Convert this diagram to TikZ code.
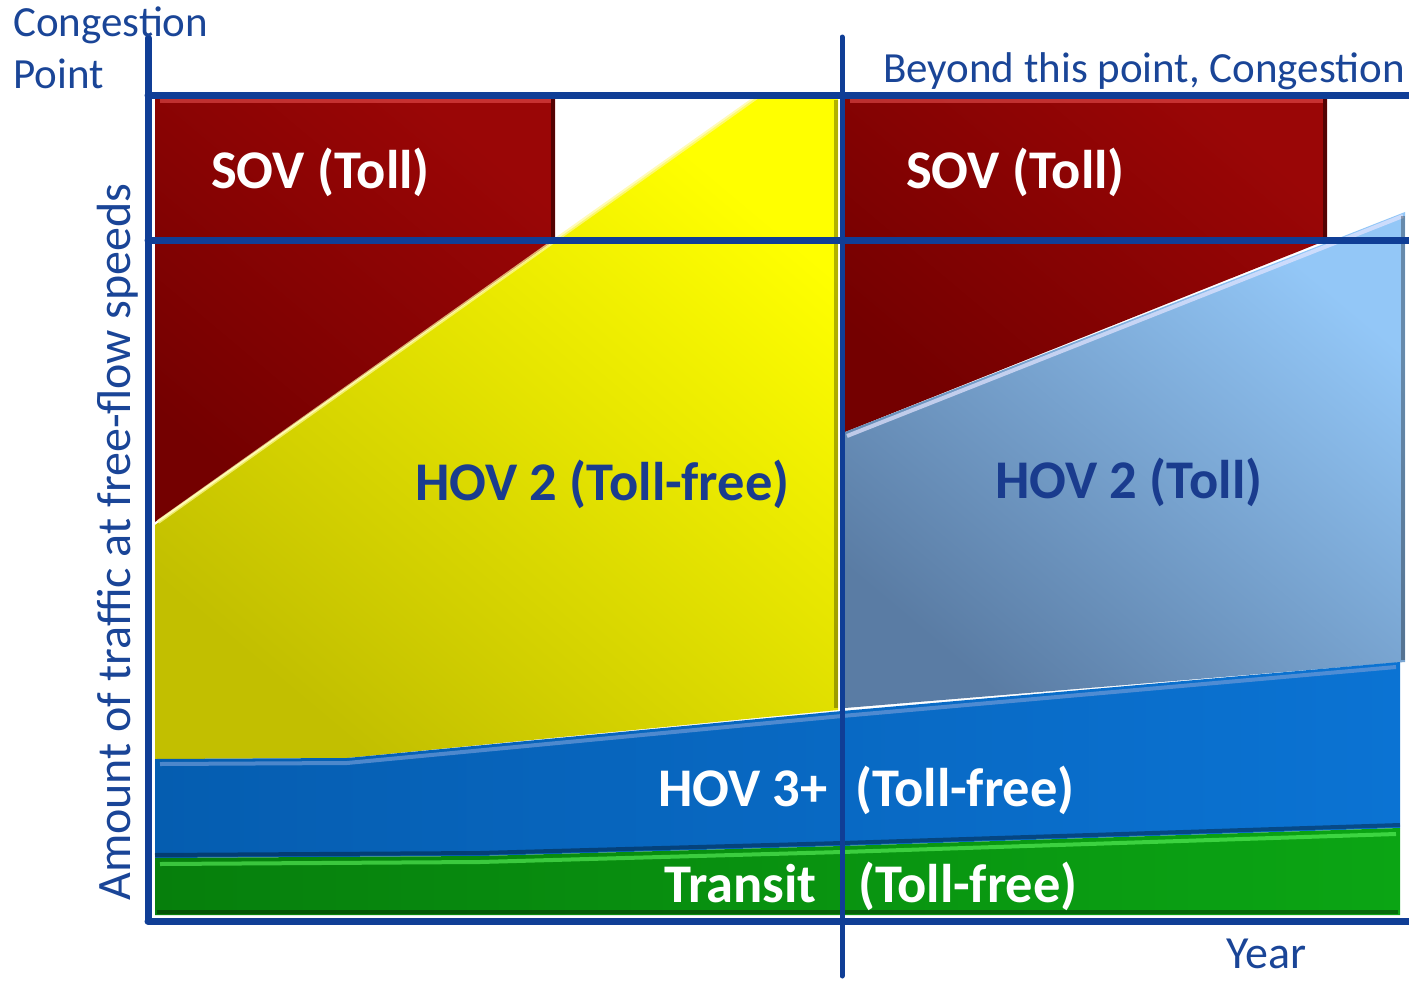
\documentclass[tikz,border=0pt]{standalone}
\usepackage{fontspec}
\setmainfont{Carlito}
\definecolor{axisblue}{HTML}{103E96}
\definecolor{labelblue}{HTML}{1A4597}
\definecolor{hovblue}{HTML}{1A3C8E}
\definecolor{redA}{HTML}{740000}
\definecolor{redB}{HTML}{9A0606}
\definecolor{yelA}{HTML}{C2BF00}
\definecolor{yelB}{HTML}{FFFF00}
\definecolor{blueA}{HTML}{055DB0}
\definecolor{blueB}{HTML}{0B73D3}
\definecolor{greenA}{HTML}{067F0C}
\definecolor{greenB}{HTML}{0BA514}
\definecolor{lbA}{HTML}{5A7CA4}
\definecolor{lbB}{HTML}{93C7F7}
\tikzset{
  axisline/.style={axisblue, line width=7pt, line cap=round},
  midline/.style={axisblue, line width=5pt, line cap=round},
  biglabel/.style={font=\fontsize{54.5}{54.5}\selectfont\bfseries, inner sep=0pt, anchor=base west},
  whitelabel/.style={biglabel, text=white},
  bluelabel/.style={biglabel, text=hovblue},
  axislabel/.style={font=\fontsize{43}{43}\selectfont, text=labelblue, inner sep=0pt},
  hilite/.style={line width=4pt, opacity=0.7},
  shadow/.style={line width=4pt, opacity=0.45, black}
}
\begin{document}
\begin{tikzpicture}[x=1pt,y=-1pt]
\useasboundingbox (0,0) rectangle (1409,983);

% --- left half ---
\shade[bottom color=redA, top color=redB, shading angle=-40]
  (155,97) -- (555,97) -- (555,240) -- (155,522) -- cycle;
\draw[hilite, red!60!white, opacity=0.45] (160,101) -- (551,101);
\draw[shadow] (553,99) -- (553,238);

\shade[bottom color=yelA, top color=yelB, shading angle=-40]
  (155,525) -- (757,97) -- (838,97) -- (838,710) -- (347,758) -- (155,759) -- cycle;
\draw[hilite, yellow!40!white] (158,522) -- (757,97);
\draw[shadow, opacity=0.3] (836,100) -- (836,708);

% --- right half ---
\shade[bottom color=redA, top color=redB, shading angle=-40]
  (845,97) -- (1327,97) -- (1327,240) -- (845,432) -- cycle;
\draw[hilite, red!60!white, opacity=0.45] (850,101) -- (1323,101);
\draw[shadow] (1325,99) -- (1325,238);

\shade[bottom color=lbA, top color=lbB, shading angle=-40]
  (845,432) -- (1405,212) -- (1405,662) -- (845,708) -- cycle;
\draw[hilite, blue!10!white] (847,436) -- (1403,216);
\draw[shadow, opacity=0.3] (1403,216) -- (1403,660);

% --- HOV 3+ band ---
\shade[left color=blueA, right color=blueB]
  (155,759) -- (347,758) -- (842,711) -- (1400,662) -- (1400,828) -- (842,846) -- (480,856) -- (155,858) -- cycle;
\draw[hilite, cyan!50!blue!60!white] (160,764) -- (347,763) -- (842,716) -- (1396,667);
\draw[shadow, opacity=0.35] (155,855) -- (480,853) -- (842,843) -- (1400,825);

% --- Transit band ---
\shade[left color=greenA, right color=greenB]
  (155,858) -- (480,856) -- (842,846) -- (1400,828) -- (1400,915) -- (155,915) -- cycle;
\draw[hilite, green!60!white, opacity=0.55] (160,864) -- (480,862) -- (842,852) -- (1396,834);
\draw[shadow, opacity=0.35] (157,912) -- (1398,912);

% --- axes and grid lines ---
\coordinate (ytop) at (148,38);
\coordinate (origin) at (148,921);
\coordinate (xend) at (1409,921);
\coordinate (c1l) at (148,95);
\coordinate (c1r) at (1409,95);
\coordinate (c2l) at (148,240);
\coordinate (c2r) at (1409,240);
\coordinate (mtop) at (842,37);
\coordinate (mbot) at (842,976);
\draw[axisline] (c1l) -- (c1r);
\draw[axisline] (c2l) -- (c2r);
\draw[midline] (mtop) -- (mbot);
\draw[axisline] (origin) -- (xend);
\draw[axisline] (ytop) -- (origin);

% --- labels ---
\node[whitelabel] (sovL) at (211,188) {SOV (Toll)};
\node[whitelabel] (sovR) at (906,188) {SOV (Toll)};
\node[bluelabel] (hov2L) at (415,500) {HOV 2 (Toll-free)};
\node[bluelabel] (hov2R) at (995,498) {HOV 2 (Toll)};
\node[whitelabel, anchor=base east] (hov3) at (828,806) {HOV 3+};
\node[whitelabel] (hov3f) at (855,806) {(Toll-free)};
\node[whitelabel, anchor=base east] (transit) at (817,902) {Transit};
\node[whitelabel] (transitf) at (858,902) {(Toll-free)};

\node[axislabel, anchor=base west] (cong) at (13,36) {Congestion};
\node[axislabel, anchor=base west] (point) at (13,88) {Point};
\node[axislabel, anchor=base east] (beyond) at (1405,82) {Beyond this point, Congestion};
\node[axislabel, font=\fontsize{46}{46}\selectfont, anchor=base west] (year) at (1226,968) {Year};
\node[axislabel, font=\fontsize{48}{48}\selectfont, rotate=90, anchor=base] (ylab) at (130,542) {Amount of traffic at free-flow speeds};
\end{tikzpicture}
\end{document}
